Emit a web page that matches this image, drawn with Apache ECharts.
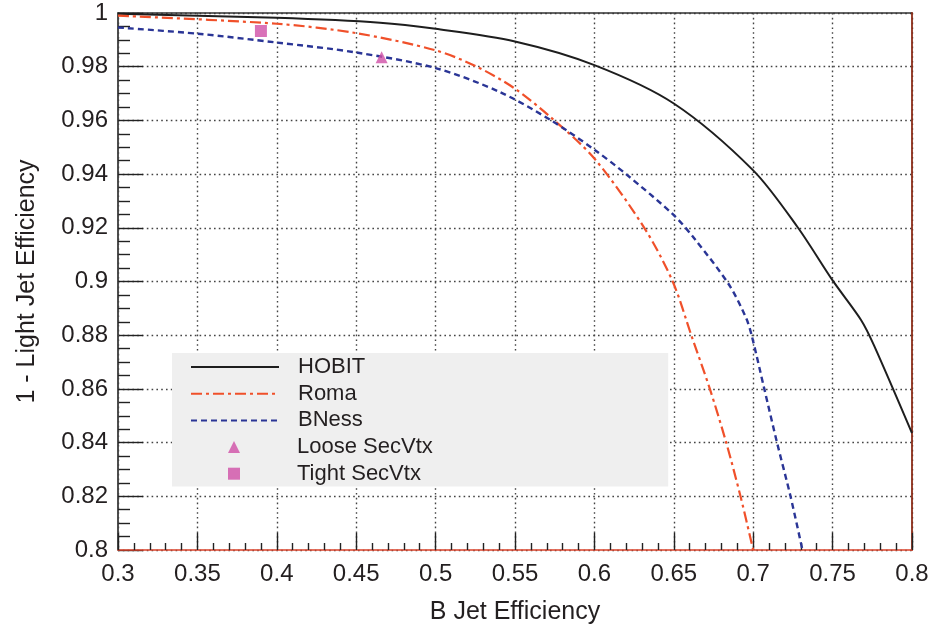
<!DOCTYPE html>
<html>
<head>
<meta charset="utf-8">
<script src="https://cdn.jsdelivr.net/npm/echarts@6/dist/echarts.min.js"></script>
<style>
html,body{margin:0;padding:0;background:#fff;}
#chart{width:934px;height:634px;}
</style>
</head>
<body>
<div id="chart"></div>
<script>
// ---- data ----
var hobitX = [0.30, 0.40, 0.465, 0.50, 0.55, 0.60, 0.65, 0.70, 0.728, 0.75, 0.768, 0.776, 0.80];
var hobitY = [0.9997, 0.9982, 0.9964, 0.9941, 0.9894, 0.9806, 0.9663, 0.9414, 0.9202, 0.9004, 0.8856, 0.8763, 0.8435];

var romaX = [0.30, 0.40, 0.45, 0.50, 0.526, 0.55, 0.5738, 0.60, 0.6314, 0.6493, 0.661, 0.6727, 0.683, 0.692, 0.700];
var romaY = [0.9990, 0.9960, 0.9925, 0.9861, 0.9800, 0.9718, 0.9605, 0.9458, 0.9200, 0.9000, 0.8800, 0.8600, 0.8400, 0.8200, 0.8000];

var bnessX = [0.30, 0.35, 0.40, 0.45, 0.50, 0.5403, 0.5728, 0.60, 0.6199, 0.65, 0.6639, 0.685, 0.6956, 0.699, 0.707, 0.715, 0.7235, 0.731];
var bnessY = [0.9946, 0.9923, 0.9890, 0.9853, 0.9795, 0.9706, 0.9600, 0.9491, 0.9400, 0.9247, 0.9153, 0.8986, 0.8863, 0.8800, 0.8600, 0.8400, 0.8200, 0.8000];

var looseX = [0.466];
var looseY = [0.9835];
var tightX = [0.390];
var tightY = [0.9933];

var seriesNames = ['HOBIT', 'Roma', 'BNess', 'Loose SecVtx', 'Tight SecVtx'];
var xTitle = 'B Jet Efficiency';
var yTitle = '1 - Light Jet Efficiency';

function pairs(xs, ys) { return xs.map(function (x, i) { return [x, ys[i]]; }); }

var textColor = '#231f20';
var font = 'Liberation Sans, Arial, Helvetica, sans-serif';
var gridDot = { show: true, lineStyle: { color: '#444', width: 1.4, type: [1.6, 3.2] } };
var legendText = { fontSize: 22, lineHeight: 22, color: textColor, fontFamily: font };

var chart = echarts.init(document.getElementById('chart'), null, { renderer: 'canvas' });
chart.setOption({
  backgroundColor: '#ffffff',
  animation: false,
  grid: { left: 118, right: 22, top: 13, bottom: 84, containLabel: false },
  xAxis: [{
    type: 'value', min: 0.3, max: 0.8, interval: 0.05, z: 2,
    name: xTitle, nameLocation: 'middle', nameGap: 50,
    nameTextStyle: { fontSize: 25, color: textColor, fontFamily: font },
    axisLine: { show: true, onZero: false, lineStyle: { color: '#d9412a', width: 1.6 } },
    axisTick: { show: true, inside: true, length: 17, lineStyle: { color: '#222', width: 1.4 } },
    minorTick: { show: true, splitNumber: 5, length: 7, lineStyle: { color: '#222', width: 1.4 } },
    axisLabel: { fontSize: 24, color: textColor, fontFamily: font, margin: 12 },
    splitLine: gridDot
  }, {
    type: 'value', position: 'top', min: 0.3, max: 0.8,
    axisLine: { show: true, onZero: false, lineStyle: { color: '#333', width: 1.6 } },
    axisTick: { show: false }, axisLabel: { show: false }, splitLine: { show: false }
  }],
  yAxis: [{
    type: 'value', min: 0.8, max: 1, interval: 0.02,
    name: yTitle, nameLocation: 'middle', nameGap: 78,
    nameTextStyle: { fontSize: 25, color: textColor, fontFamily: font },
    axisLine: { show: true, onZero: false, lineStyle: { color: '#222', width: 1.6 } },
    axisTick: { show: true, inside: true, length: 25, lineStyle: { color: '#222', width: 1.4 } },
    minorTick: { show: true, splitNumber: 4, length: 12, lineStyle: { color: '#222', width: 1.4 } },
    axisLabel: { fontSize: 24, color: textColor, fontFamily: font, margin: 10 },
    splitLine: gridDot
  }, {
    type: 'value', position: 'right', min: 0.8, max: 1, z: 2,
    axisLine: { show: true, onZero: false, lineStyle: { color: '#8c2d19', width: 1.8 } },
    axisTick: { show: false }, axisLabel: { show: false }, splitLine: { show: false }
  }],
  legend: [{
    orient: 'vertical', left: 172, top: 353,
    backgroundColor: '#efefef',
    padding: [3, 303, 55, 18],
    itemWidth: 88, itemHeight: 12, itemGap: 4.7,
    textStyle: Object.assign({ padding: [0, 0, 0, 14] }, legendText),
    data: [
      { name: seriesNames[0], itemStyle: { opacity: 0 } },
      { name: seriesNames[1], itemStyle: { opacity: 0 } },
      { name: seriesNames[2], itemStyle: { opacity: 0 } }
    ]
  }, {
    orient: 'vertical', left: 228, top: 436, z: 10,
    padding: 0,
    itemWidth: 12, itemHeight: 12, itemGap: 4.7,
    textStyle: Object.assign({ padding: [0, 0, 0, 52] }, legendText),
    data: [
      { name: seriesNames[3], icon: 'triangle' },
      { name: seriesNames[4], icon: 'rect' }
    ]
  }],
  series: [{
    name: seriesNames[0], type: 'line', data: pairs(hobitX, hobitY),
    showSymbol: false, symbol: 'none', smooth: 0.3, clip: true,
    lineStyle: { color: '#1e1e1e', width: 2 }, itemStyle: { color: '#1e1e1e' }, z: 3
  }, {
    name: seriesNames[1], type: 'line', data: pairs(romaX, romaY),
    showSymbol: false, symbol: 'none', smooth: 0.3, clip: true,
    lineStyle: { color: '#f0502a', width: 2.2, type: [11, 4, 3, 4] }, itemStyle: { color: '#f0502a' }, z: 3
  }, {
    name: seriesNames[2], type: 'line', data: pairs(bnessX, bnessY),
    showSymbol: false, symbol: 'none', smooth: 0.3, clip: true,
    lineStyle: { color: '#2a3596', width: 2.4, type: [6, 4] }, itemStyle: { color: '#2a3596' }, z: 3
  }, {
    name: seriesNames[3], type: 'scatter', data: pairs(looseX, looseY),
    symbol: 'triangle', symbolSize: 12,
    itemStyle: { color: '#cf4fa6' }, z: 4
  }, {
    name: seriesNames[4], type: 'scatter', data: pairs(tightX, tightY),
    symbol: 'rect', symbolSize: 12,
    itemStyle: { color: '#cf4fa6' }, z: 4
  }]
});
</script>
</body>
</html>
